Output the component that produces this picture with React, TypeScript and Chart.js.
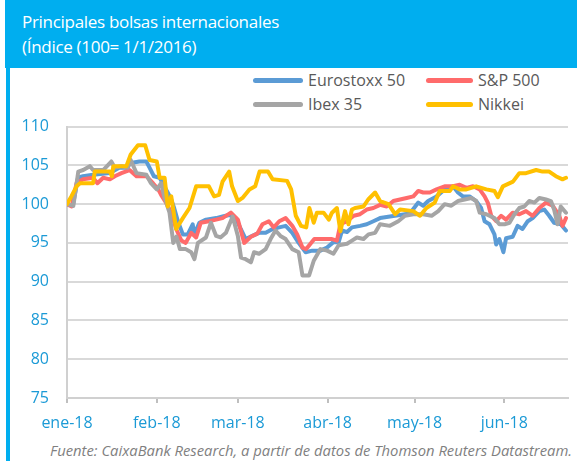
import React, { useEffect, useRef } from "react";
import { Chart, registerables } from "chart.js";

Chart.register(...registerables);

// x = day of year 2018 (0 = 1 Jan), y = index value
const monthTickDays = [0, 31, 59, 90, 120, 151];
const monthTickLabels = ["ene-18", "feb-18", "mar-18", "abr-18", "may-18", "jun-18"];

const seriesNames = ["Eurostoxx 50", "S&P 500", "Ibex 35", "Nikkei"];
const seriesColors = ["#5B9BD5", "#FF6B6B", "#A5A5A5", "#FFC000"];

const eurostoxx50: [number, number][] = [
  [0, 100], [2, 99.8], [3.8, 103.4], [5.5, 103.6], [9, 103.8], [14.8, 104], [18, 104.7], [20.5, 104.7],
  [22, 105.3], [25, 105.5], [27.4, 105.5], [28.5, 104.7], [30, 103.6], [32, 103.4], [34.2, 101.9],
  [35.8, 100.8], [37, 99.5], [38.3, 97.8], [40, 96.1], [41.7, 96.1], [43.4, 97.4], [44, 96.1],
  [45.7, 97.6], [48, 98], [51.5, 98.2], [53.7, 98.4], [56, 98.6], [58.3, 98.2], [60, 96.8],
  [61.7, 95.5], [64, 95.9], [66.3, 96.3], [68.6, 96.3], [71, 96.8], [73.3, 97], [75.5, 97.2],
  [77.8, 96.3], [80, 95], [82.4, 93.8], [84.7, 94], [87.5, 94], [89.8, 94.4], [92, 95.1],
  [93.8, 95.1], [95, 96.6], [96.7, 96.4], [98.4, 97], [101.2, 97.2], [103.5, 97.4], [105.8, 97.8],
  [108.1, 98.2], [111.5, 98.4], [115, 98.6], [118.4, 98.8], [121.3, 100.2], [123, 99.8],
  [124.7, 100.4], [127.6, 101], [130.4, 101.9], [133.3, 102.3], [135, 101.5], [136.7, 101],
  [139, 101], [141.3, 100.4], [143, 99.5], [144.2, 97.8], [145.9, 97.4], [147.6, 96.1],
  [148.2, 94.8], [149.3, 95.5], [150.7, 93.8], [151.6, 95.6], [153.9, 95.8], [155.6, 97.2],
  [157.3, 96.8], [159.1, 97.8], [160.8, 98.2], [163.1, 99.1], [164.8, 99.3], [166.5, 98.5],
  [168.2, 97.6], [170.5, 97.4], [172.3, 96.6],
];

const sp500: [number, number][] = [
  [0, 100], [1.6, 99.7], [3.3, 102.7], [5.5, 103.2], [9, 103.4], [10.5, 102.7], [12.5, 103.4],
  [14.8, 103.2], [16.5, 103.6], [18.8, 104], [21.6, 104.4], [24, 103.6], [27.4, 103.6], [29.7, 102.7],
  [31.5, 101.9], [32.5, 101.2], [34.2, 100.2], [36, 98.9], [37.7, 96.8], [39.5, 95.3], [41, 95],
  [42.9, 96.3], [44.6, 95.7], [46.2, 97.6], [49, 97.8], [51.5, 98], [53.7, 98.2], [56.6, 98.9],
  [59, 98], [61.2, 95], [63.5, 95.8], [65.7, 96.2], [67.5, 97.4], [69.7, 97.8], [71.4, 97],
  [73.3, 97.8], [75.5, 98.2], [77.8, 97.2], [79.5, 96.1], [81.3, 94.4], [82.6, 94.2], [85.4, 95.5],
  [87, 95.5], [89.2, 95.5], [91.5, 95.5], [93.2, 95.3], [94.4, 97.4], [96.7, 97.8], [99, 98.5],
  [101.2, 98.7], [103.5, 99.3], [105.8, 99.5], [108.1, 99.9], [110.4, 99.7], [112.7, 100.4],
  [115, 100.6], [117.3, 100.8], [119.6, 101], [121.3, 101.7], [123, 101.5], [125.3, 101.5],
  [127.6, 101.9], [130.4, 102.3], [133.3, 102.3], [135.6, 102.5], [137.9, 102.1], [140.2, 102.3],
  [142.5, 101.9], [144.2, 101], [145.3, 100.2], [146.5, 98.5], [148.2, 97.8], [149.9, 98.5],
  [151.6, 98], [153.9, 98.9], [156.2, 98.7], [158.5, 99.1], [160.8, 98.5], [163.1, 99.5],
  [165.4, 100.2], [167.7, 99.8], [170, 98.5], [171.1, 97.2], [172.3, 98.2],
];

const ibex35: [number, number][] = [
  [0, 100], [2.2, 99.8], [3.9, 104.2], [5.6, 104.4], [7.9, 104.9], [9, 104.4], [12.5, 104.4],
  [14.8, 105.3], [15.3, 105.5], [16.5, 104.7], [18.8, 104.9], [21, 104.7], [22, 105.7], [24, 104],
  [27.4, 103.8], [29, 102.7], [31, 101.9], [32.5, 102.7], [33.7, 100.8], [35.4, 98.9], [36.7, 95],
  [37.8, 95.8], [39, 94.2], [41, 94.2], [42.9, 93.8], [44, 92.9], [45.2, 95], [48, 95.7],
  [49.7, 97.6], [51.5, 95.9], [53, 95.7], [54.9, 96.3], [57.2, 98.4], [59, 95.9], [60.1, 93.1],
  [61.7, 92.9], [63.5, 92.5], [64.6, 93.8], [66.3, 93.6], [68.6, 94.2], [70.3, 95.5], [72, 96.6],
  [73.7, 95.9], [75.5, 95.5], [77.8, 94.2], [80, 93.8], [81.3, 90.8], [83.6, 90.8], [85.2, 92.7],
  [87.5, 94.2], [89.8, 94], [92, 93.6], [93.8, 94.7], [96.7, 94.9], [98.4, 95.3], [100.1, 95.7],
  [102.4, 95.5], [104.1, 96.1], [106.4, 96.3], [108.1, 97.4], [111.5, 97.2], [114.4, 97.8],
  [116.7, 98.5], [119.6, 98.7], [123, 98.7], [125.9, 98.5], [128.2, 99.1], [130.4, 100],
  [132.7, 99.8], [135, 100.4], [137.3, 100.6], [139.6, 100.8], [141.3, 100.4], [142.5, 98.9],
  [144.8, 98.7], [147.6, 98.2], [149.3, 97.4], [151.1, 97.4], [152.8, 97.6], [154.5, 98.7],
  [156.2, 99.5], [157.9, 99.7], [159.6, 100.4], [161.4, 100.2], [163.1, 100.8], [165.4, 100.6],
  [167.1, 100.4], [168.2, 99.3], [169.4, 97.4], [170.5, 99.7], [172.3, 98.9],
];

const nikkei: [number, number][] = [
  [0, 100], [1.5, 101], [3.3, 102.3], [4.5, 102.7], [9, 102.7], [9.6, 104.2], [14.8, 104.2],
  [15.5, 103.6], [16, 104.9], [20.5, 104.9], [22, 106.4], [24.5, 107.6], [27, 107.6], [28.5, 105.7],
  [31, 105.5], [32, 103.4], [33.7, 103.4], [34.8, 99.7], [36, 101], [37.7, 96.8], [40, 98.2],
  [42.3, 99.5], [44.6, 102.3], [49, 102.3], [50.8, 101], [52.5, 101.2], [53.7, 102.9], [56, 104.2],
  [57, 102.3], [59, 100.4], [60.6, 100.8], [63, 101.9], [65, 102.3], [66.5, 104.2], [69.4, 104.2],
  [71, 103.2], [76, 103], [77.4, 101.9], [79, 98.5], [80.8, 97.2], [82.6, 97], [83.7, 99.5],
  [85.2, 97.6], [86.3, 98.9], [88.6, 98.9], [90.4, 98], [91.5, 98.9], [93.2, 99.5], [94.4, 96.5],
  [96, 99.1], [97.2, 97.4], [98.4, 99.3], [99.5, 99.5], [102.4, 99.7], [104, 100.6], [106.4, 101.5],
  [108.1, 100.4], [111, 100], [113.3, 98.7], [115, 99.3], [119.6, 99.1], [121.9, 98.5],
  [124.1, 99.5], [127, 100.2], [128.7, 101.7], [132.2, 101.7], [133.3, 102.3], [135.6, 101.9],
  [137.9, 101.9], [141.3, 102.3], [144.8, 101.9], [147.6, 101.7], [148.8, 100.9], [150.5, 102.3],
  [154, 102.9], [156.2, 104], [158.5, 104], [162, 104.4], [164.2, 104.2], [166.5, 104.2],
  [168.8, 103.6], [171.1, 103.2], [172.3, 103.4],
];

const allSeries = [eurostoxx50, sp500, ibex35, nikkei];

const TICK_BLUE = "#1B9AD6";
const HEADER_BLUE = "#00AEEF";
const FONT = "'Open Sans', 'Noto Sans', sans-serif";

export default function App() {
  const canvasRef = useRef<HTMLCanvasElement | null>(null);

  useEffect(() => {
    document.body.style.margin = "0";
    const canvas = canvasRef.current;
    if (!canvas) return;
    const chart = new Chart(canvas, {
      type: "line",
      data: {
        datasets: allSeries.map((s, i) => ({
          label: seriesNames[i],
          data: s.map(([x, y]) => ({ x, y })),
          borderColor: seriesColors[i],
          backgroundColor: seriesColors[i],
          borderWidth: 4,
          pointRadius: 0,
          tension: 0,
          borderJoinStyle: "round" as const,
          borderCapStyle: "round" as const,
          order: 4 - i,
        })),
      },
      options: {
        animation: false,
        responsive: false,
        devicePixelRatio: 1,
        layout: { padding: { top: 3, right: 9, left: 0, bottom: 0 } },
        plugins: { legend: { display: false }, tooltip: { enabled: false } },
        scales: {
          x: {
            type: "linear",
            min: 0,
            max: 173,
            afterBuildTicks: (scale: any) => {
              scale.ticks = monthTickDays.map((v) => ({ value: v }));
            },
            afterFit: (scale: any) => {
              scale.height = 42;
            },
            ticks: {
              autoSkip: false,
              maxRotation: 0,
              padding: 11,
              color: TICK_BLUE,
              font: { family: FONT, size: 16 },
              callback: (v: any) => {
                const idx = monthTickDays.indexOf(Number(v));
                return idx >= 0 ? monthTickLabels[idx] : "";
              },
            },
            grid: {
              drawOnChartArea: false,
              drawTicks: true,
              tickLength: 5,
              color: "#BFBFBF",
              lineWidth: 2,
            },
            border: { display: true, color: "#D0D0D0", width: 2 },
          },
          y: {
            min: 75,
            max: 110,
            afterFit: (scale: any) => {
              scale.width = 67;
            },
            ticks: {
              stepSize: 5,
              padding: 18,
              color: TICK_BLUE,
              font: { family: FONT, size: 16 },
            },
            grid: {
              drawTicks: false,
              color: "#D9D9D9",
              lineWidth: 2,
            },
            border: { display: true, color: "#D0D0D0", width: 2 },
          },
        },
      },
    });
    return () => chart.destroy();
  }, []);

  const legendItem = (i: number, left: number, top: number, lineW: number) => (
    <div
      key={i}
      style={{ position: "absolute", left, top, height: 22, display: "flex", alignItems: "center" }}
    >
      <div
        style={{
          width: lineW,
          height: 5,
          borderRadius: 3,
          background: seriesColors[i],
          marginRight: 5,
        }}
      />
      <span style={{ fontFamily: FONT, fontSize: 16, color: "#595959", whiteSpace: "nowrap" }}>
        {seriesNames[i]}
      </span>
    </div>
  );

  return (
    <div
      style={{
        position: "absolute",
        left: 0,
        top: 0,
        width: 577,
        height: 461,
        overflow: "hidden",
        background: "#FFFFFF",
      }}
    >
      <div
        style={{
          position: "absolute",
          left: 5,
          top: 0,
          width: 572,
          height: 68,
          background: HEADER_BLUE,
        }}
      />
      <div style={{ position: "absolute", left: 6, top: 0, width: 4, height: 461, background: HEADER_BLUE }} />
      <div
        style={{
          position: "absolute",
          left: 22,
          top: 9,
          color: "#FFFFFF",
          fontFamily: FONT,
          fontSize: 17,
          letterSpacing: "-0.3px",
          lineHeight: "25px",
          whiteSpace: "nowrap",
        }}
      >
        <div>Principales bolsas internacionales</div>
        <div>(Índice (100= 1/1/2016)</div>
      </div>
      {legendItem(0, 253, 69, 50)}
      {legendItem(1, 426, 69, 47)}
      {legendItem(2, 253, 93, 50)}
      {legendItem(3, 426, 93, 47)}
      <canvas
        ref={canvasRef}
        width={577}
        height={341}
        style={{ position: "absolute", left: 0, top: 99, width: 577, height: 341 }}
      />
      <div
        style={{
          position: "absolute",
          right: 5,
          top: 440,
          fontFamily: FONT,
          fontStyle: "italic",
          fontSize: 14.8,
          color: "#7F7F7F",
          whiteSpace: "nowrap",
        }}
      >
        Fuente: CaixaBank Research, a partir de datos de Thomson Reuters Datastream.
      </div>
    </div>
  );
}
